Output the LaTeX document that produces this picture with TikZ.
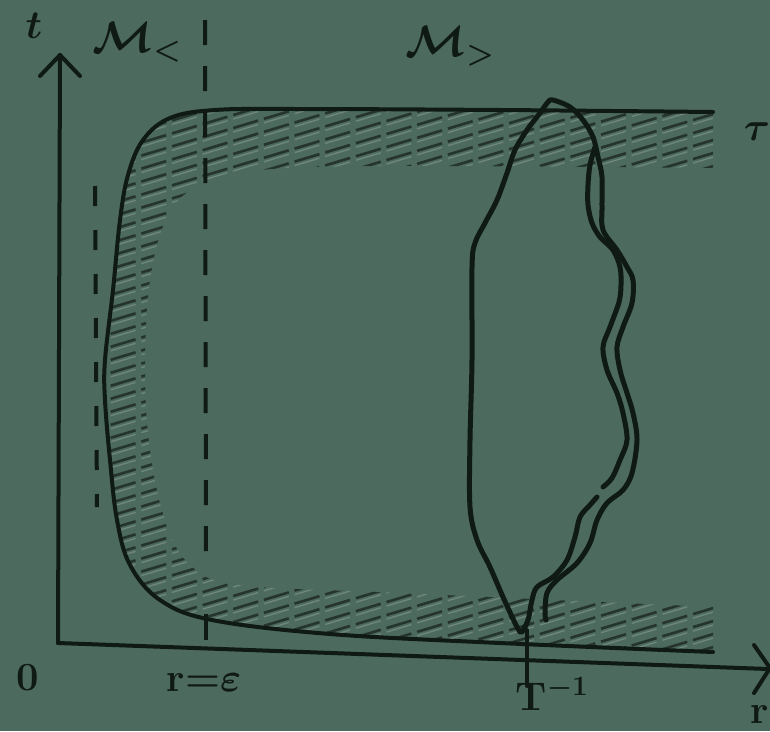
\RequirePackage{fix-cm}
\documentclass[tikz,border=0pt]{standalone}
\usepackage{amsmath}
\definecolor{bgc}{RGB}{76,106,93}
\definecolor{inkc}{RGB}{16,26,20}
\definecolor{hatchc}{RGB}{38,52,46}
\definecolor{hatchl}{RGB}{110,134,124}
\begin{document}
\begin{tikzpicture}[x=1pt,y=-1pt,
  ink/.style={draw=inkc, line width=4pt, line cap=round, line join=round},
  loopline/.style={draw=inkc, line width=5pt, line cap=round, line join=round},
  dashline/.style={draw=inkc, line width=4pt, line cap=butt},
  hatchdark/.style={draw=hatchc, line width=2.6pt, dash pattern=on 26pt off 6pt},
  hatchlight/.style={draw=hatchl, line width=1.4pt, dash pattern=on 26pt off 6pt},
  lbl/.style={text=inkc, inner sep=0pt, font=\fontsize{40}{46}\selectfont\bfseries\boldmath},
  mlbl/.style={text=inkc, inner sep=0pt, font=\fontsize{44}{50}\selectfont\boldmath}]
\fill[bgc] (0,0) rectangle (770,731);
\useasboundingbox (0,0) rectangle (770,731);

% hatched band
\begin{scope}
  \clip plot[smooth, tension=0.6] coordinates {(713,112) (500,110) (300,109) (215,110) (170,118) (143,140) (128,175) (120,220) (113,290) (105,360) (105,400) (110,460) (117,520) (130,565) (160,600) (212,620) (330,634) (500,643) (713,652)}
    -- plot[smooth, tension=0.6] coordinates {(713,607) (400,593) (240,585) (190,565) (165,520) (150,450) (145,370) (150,280) (168,215) (200,185) (260,170) (400,166) (713,168)}
    -- cycle;
  \foreach \c in {96,109,...,860} {
    \draw[hatchlight] (80,\c+4) -- ++(660,-198);
    \draw[hatchdark] (80,\c) -- ++(660,-198);
  }
\end{scope}

% boundary curve
\draw[ink] plot[smooth, tension=0.6] coordinates {(713,112) (500,110) (300,109) (215,110) (170,118) (143,140) (128,175) (120,220) (113,290) (105,360) (105,400) (110,460) (117,520) (130,565) (160,600) (212,620) (330,634) (500,643) (713,652)};

% dashed verticals
\draw[dashline, dash pattern=on 25pt off 21pt] (205,20) -- (206,560);
\draw[dashline] (206,614) -- (206,640);
\draw[dashline, dash pattern=on 20pt off 24pt] (95,186) -- (97,507);

% axes
\coordinate (O) at (58,643);
\coordinate (ttop) at (60,55);
\coordinate (rend) at (768,669);
\draw[ink] (O) -- (ttop);
\draw[ink] (40,76) -- (ttop) -- (80,76);
\draw[ink] (O) -- (rend);
\draw[ink] (754,645) -- (770,668) -- (754,693);
\draw[ink] (527,630) -- (527,686);

% loop
\draw[loopline] plot[smooth, tension=0.55] coordinates {(520,632) (515,623) (503,597) (490,567) (477,540) (470,507) (470,440) (472,360) (472,267) (475,243) (485,223) (497,200) (507,173) (515,150) (527,130) (540,113) (548,102) (553,100) (570,107) (583,120) (593,137) (598,157) (602,177) (602,207) (603,230) (617,250) (627,267) (633,280) (632,303) (623,327) (617,347) (620,370) (627,393) (633,413) (637,440) (632,473) (623,490) (607,503) (597,520) (590,543) (577,563) (557,580) (547,593) (545,613) (546,620)};
\draw[loopline] plot[smooth, tension=0.55] coordinates {(595,147) (590,165) (588,185) (588,205) (592,223) (600,237) (613,250) (620,267) (621,285) (619,302) (610,327) (603,347) (607,370) (617,393) (623,413) (627,440) (620,460) (612,478) (603,487)};
\draw[loopline] plot[smooth, tension=0.55] coordinates {(597,497) (590,505) (580,517) (575,537) (567,560) (553,577) (537,587) (532,600) (528,620) (522,632)};

% labels
\node[lbl] (tlab) at (34,26) {$t$};
\node[mlbl] (mless) at (137,42) {$\mathcal{M}_<$};
\node[mlbl] (mgreater) at (450,46) {$\mathcal{M}_>$};
\node[lbl] (tau) at (757,132) {$\tau$};
\node[lbl] (zero) at (28,678) {0};
\node[lbl] (reps) at (204,682) {r=$\varepsilon$};
\node[lbl] (tinv) at (552,694) {T$^{-1}$};
\node[lbl, anchor=east] (rlab) at (769,714) {r};
\end{tikzpicture}
\end{document}
